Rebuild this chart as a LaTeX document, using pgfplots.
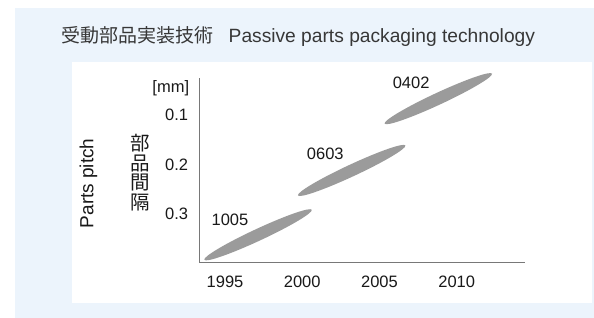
\documentclass[border=0pt]{standalone}
\usepackage{fontspec}
\setmainfont{Liberation Sans}
\newfontfamily\cjk{Noto Sans CJK JP}
\usepackage{pgfplots}
\pgfplotsset{compat=1.18}
\definecolor{panelblue}{RGB}{236,244,252}
\definecolor{ellgray}{RGB}{155,155,155}
\definecolor{axgray}{RGB}{120,120,120}
\definecolor{txt}{RGB}{25,25,25}
\definecolor{ttl}{RGB}{55,55,55}
\pgfdeclareplotmark{pellipse}{\pgfpathellipse{\pgfpointorigin}{\pgfpoint{53.7bp}{25bp}}{\pgfpoint{-2.5bp}{5.4bp}}\pgfusepathqfill}
\begin{document}
\begin{tikzpicture}
\useasboundingbox (0,0) rectangle (594bp,318bp);
\fill[white] (0,0) rectangle (594bp,318bp);
\fill[panelblue] (15bp,0) rectangle (594bp,309.5bp);
\fill[white] (71.7bp,15bp) rectangle (592bp,256.3bp);
\begin{axis}[
 at={(199.3bp,55.5bp)}, anchor=south west,
 scale only axis, width=325.7bp, height=184.5bp,
 xmin=1993.336, xmax=2014.42,
 ymin=0.02525, ymax=0.398, y dir=reverse,
 axis x line=bottom, axis y line=left,
 axis line style={-, draw=axgray, line width=1bp},
 xtick={1995,2000,2005,2010}, xticklabels={1995,2000,2005,2010},
 ytick={0.1,0.2,0.3}, yticklabels={0.1,0.2,0.3},
 major tick length=0pt,
 /pgf/number format/assume math mode=true,
 tick label style={font=\fontsize{16.5bp}{18bp}\selectfont, text=txt, inner sep=0pt},
 xticklabel style={anchor=north, yshift=-13.5bp},
 yticklabel style={anchor=east, xshift=-11bp},
 clip=false,
]
\addplot[only marks, mark=pellipse, color=ellgray] coordinates {(1997.14,0.342) (2003.20,0.212) (2008.81,0.067)};
\node[font=\fontsize{16.5bp}{18bp}\selectfont, text=txt, inner sep=0pt] at (axis cs:1995.32,0.312) {1005};
\node[font=\fontsize{16.5bp}{18bp}\selectfont, text=txt, inner sep=0pt] at (axis cs:2001.49,0.179) {0603};
\node[font=\fontsize{16.5bp}{18bp}\selectfont, text=txt, inner sep=0pt] at (axis cs:2007.05,0.035) {0402};
\end{axis}
\node[anchor=base west, inner sep=0pt, font=\cjk\fontsize{19bp}{20bp}\selectfont, text=ttl] at (61bp,275.5bp) {受動部品実装技術};
\node[anchor=base west, inner sep=0pt, font=\fontsize{19.2bp}{20bp}\selectfont, text=ttl] at (228.5bp,275.5bp) {Passive parts packaging technology};
\node[rotate=90, inner sep=0pt, font=\fontsize{19bp}{20bp}\selectfont, text=txt] at (88.5bp,134.7bp) {Parts pitch};
\node[align=center, inner sep=0pt, font=\cjk\fontsize{19.5bp}{19.6bp}\selectfont, text=txt] at (140bp,145.5bp) {部\\品\\間\\隔};
\node[inner sep=0pt, font=\fontsize{16.5bp}{18bp}\selectfont, text=txt] at (170.8bp,230bp) {[mm]};
\end{tikzpicture}
\end{document}
